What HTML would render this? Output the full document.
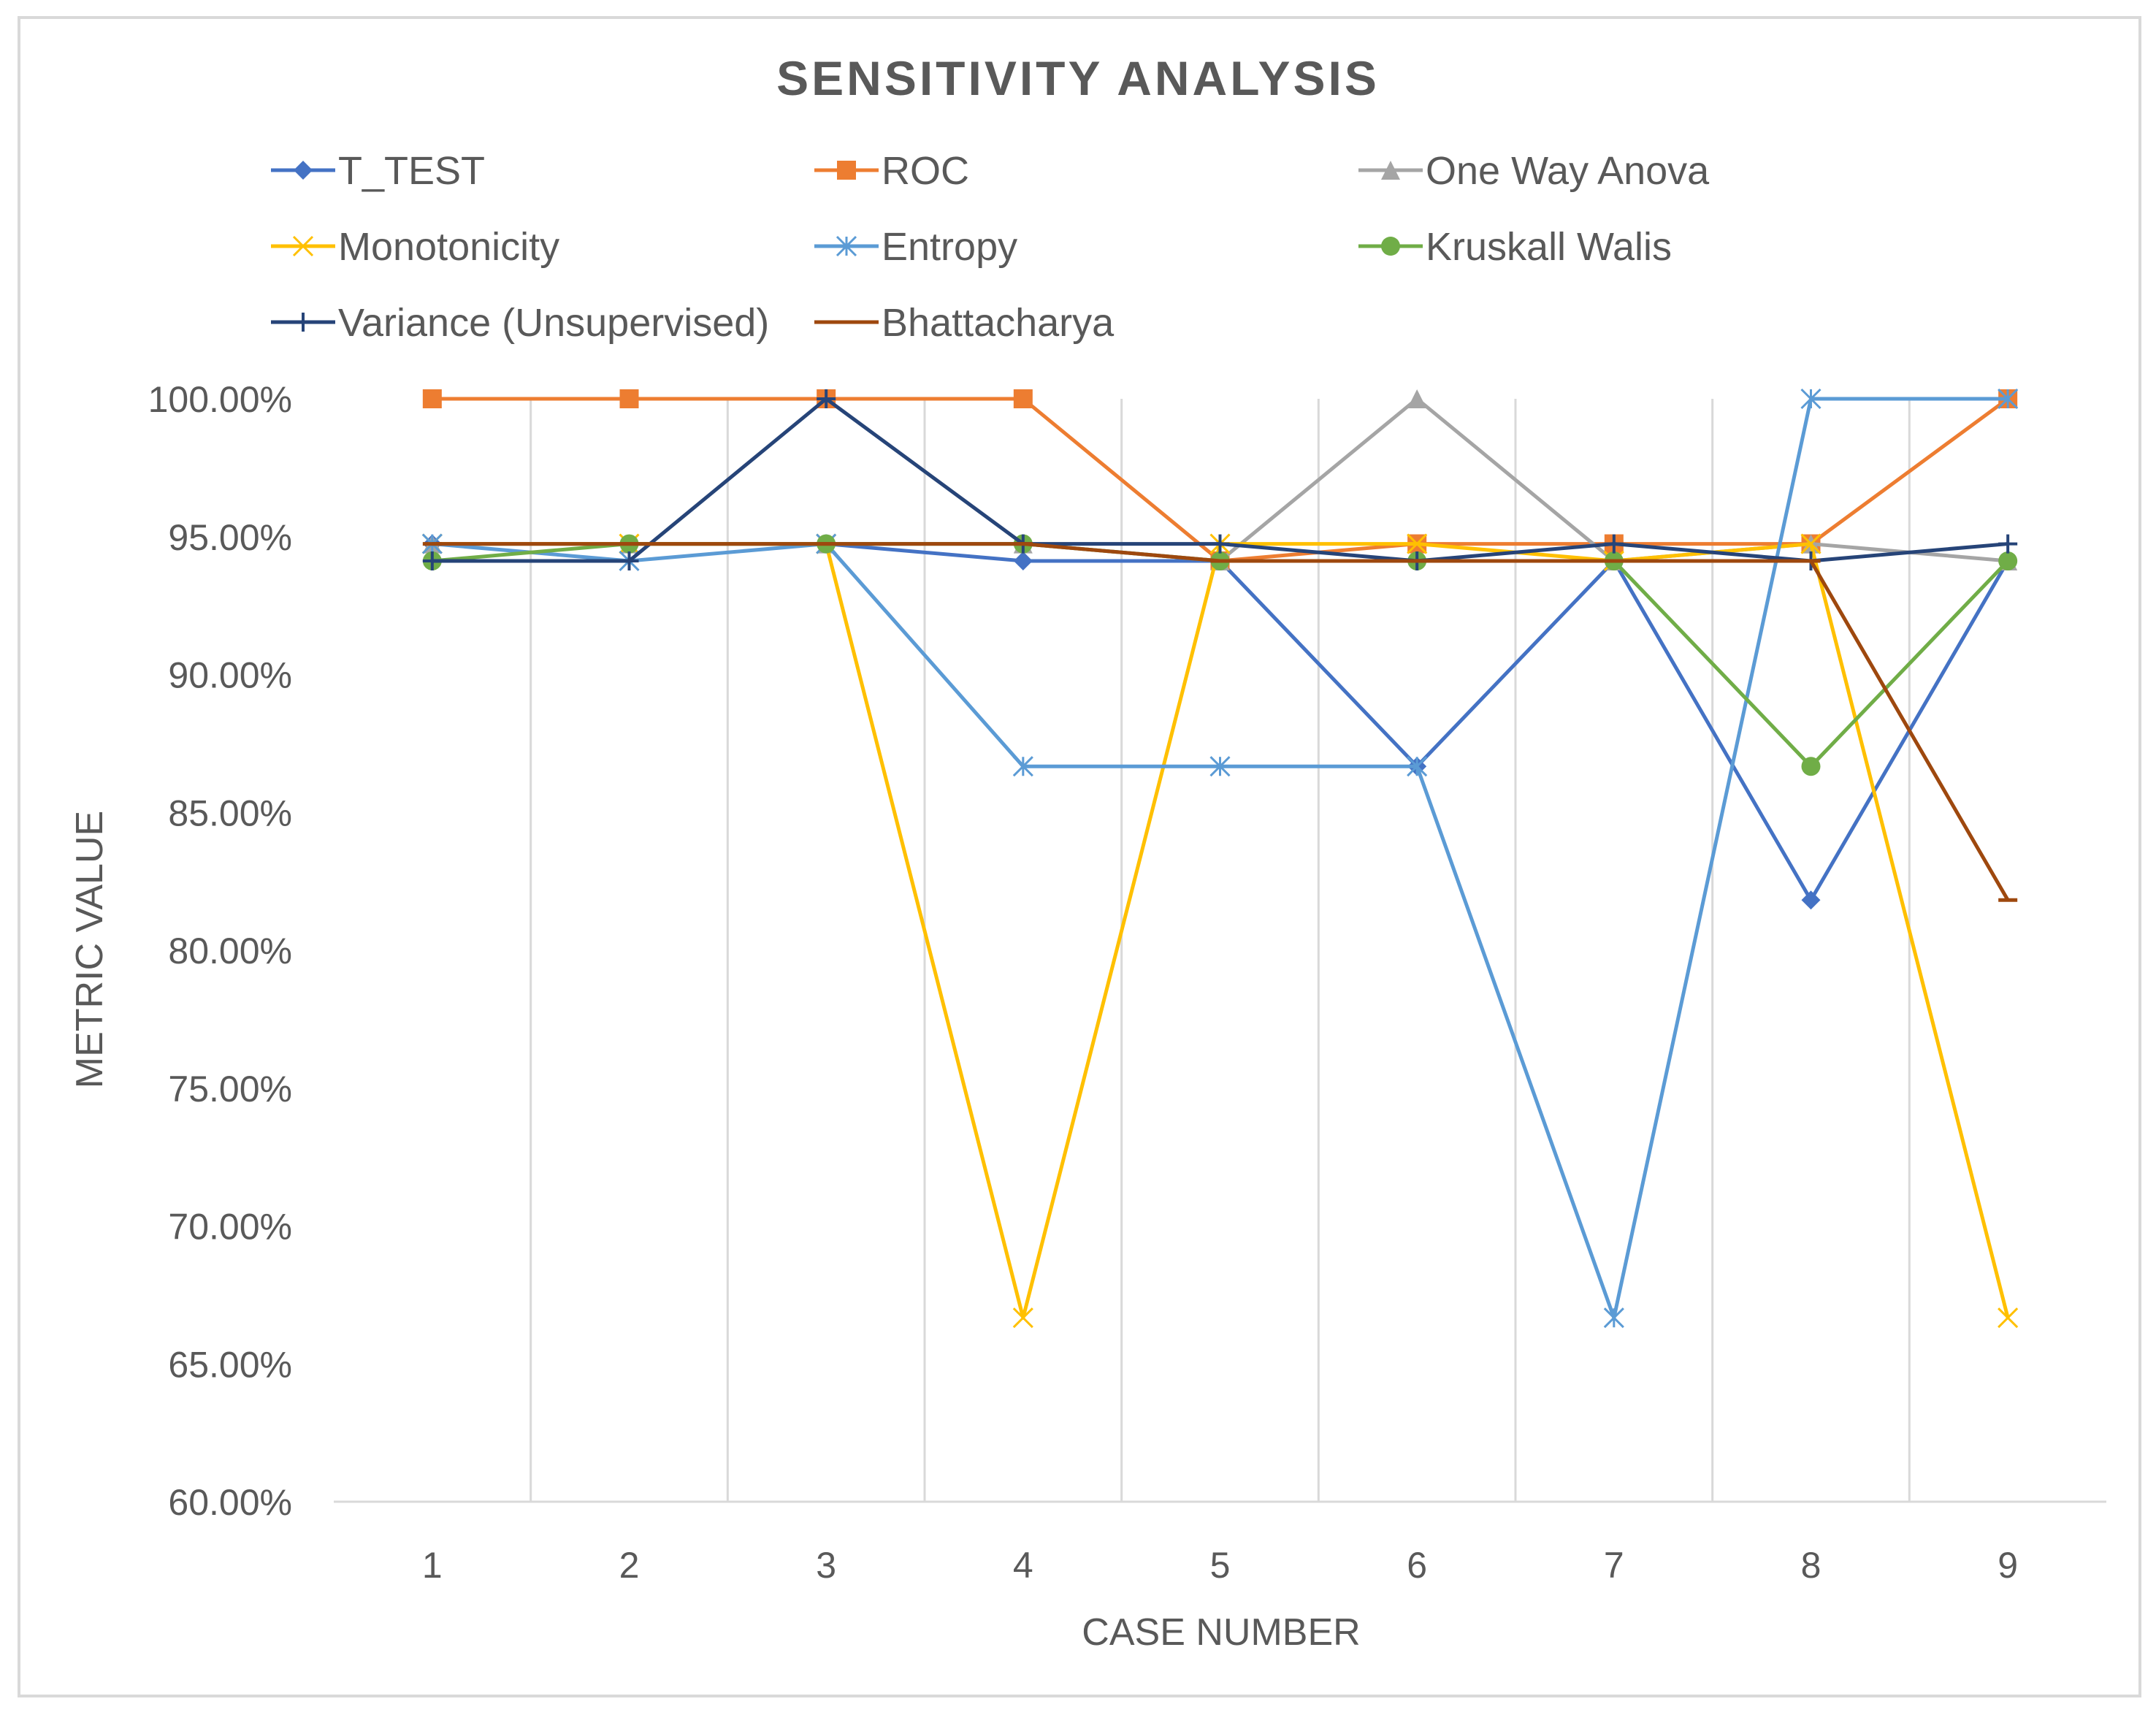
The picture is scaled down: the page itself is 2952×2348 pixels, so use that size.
<!DOCTYPE html>
<html><head><meta charset="utf-8"><style>
html,body{margin:0;padding:0;background:#fff;}
svg{display:block;font-family:"Liberation Sans",sans-serif;}
</style></head><body>
<svg id="chart" width="2952" height="2348" viewBox="0 0 2952 2348" xmlns="http://www.w3.org/2000/svg">
<rect x="26" y="24" width="2904" height="2298" fill="#fff" stroke="#d9d9d9" stroke-width="4"/>
<text x="1476" y="130" text-anchor="middle" font-size="66" font-weight="bold" letter-spacing="4" fill="#595959">SENSITIVITY ANALYSIS</text>
<g id="grid"></g><g id="axes"></g><g id="series"></g><g id="legend"></g>
<text x="1672" y="2252" text-anchor="middle" font-size="52" fill="#595959">CASE NUMBER</text>
<text transform="translate(140,1300) rotate(-90)" text-anchor="middle" font-size="52" fill="#595959">METRIC VALUE</text>
</svg>
<script>
const categories = [1,2,3,4,5,6,7,8,9];
const yTicks = [60,65,70,75,80,85,90,95,100];
const seriesNames = ["T_TEST","ROC","One Way Anova","Monotonicity","Entropy","Kruskall Walis","Variance (Unsupervised)","Bhattacharya"];
const tTest = [94.74,94.74,94.74,94.12,94.12,86.67,94.12,81.82,94.12];
const roc = [100,100,100,100,94.12,94.74,94.74,94.74,100];
const anova = [94.74,94.74,94.74,94.74,94.12,100,94.12,94.74,94.12];
const monotonicity = [94.74,94.74,94.74,66.67,94.74,94.74,94.12,94.74,66.67];
const entropy = [94.74,94.12,94.74,86.67,86.67,86.67,66.67,100,100];
const kruskall = [94.12,94.74,94.74,94.74,94.12,94.12,94.12,86.67,94.12];
const variance = [94.12,94.12,100,94.74,94.74,94.12,94.74,94.12,94.74];
const bhatta = [94.74,94.74,94.74,94.74,94.12,94.12,94.12,94.12,81.82];

const NS="http://www.w3.org/2000/svg";
const L=457,R=2884,T=546,B=2056,ymin=60,ymax=100;
const band=(R-L)/categories.length;
function xs(i){return L+band*(i+0.5);}
function ys(v){return B-(v-ymin)/(ymax-ymin)*(B-T);}
function mk(tag,attrs,parent){const e=document.createElementNS(NS,tag);for(const k in attrs)e.setAttribute(k,attrs[k]);parent.appendChild(e);return e;}
const grid=document.getElementById('grid'),axes=document.getElementById('axes'),ser=document.getElementById('series'),leg=document.getElementById('legend');
for(let i=1;i<categories.length;i++){const g=mk('line',{x1:L+band*i,x2:L+band*i,y1:T,y2:B,stroke:'#d9d9d9','stroke-width':3},grid);

}
const ax=mk('line',{x1:L,x2:R,y1:B,y2:B,stroke:'#d9d9d9','stroke-width':3},axes);


yTicks.forEach(v=>{const t=mk('text',{x:400,y:ys(v)+18,'text-anchor':'end','font-size':50,fill:'#595959'},axes);t.textContent=v.toFixed(2)+'%';

});
categories.forEach((c,i)=>{const t=mk('text',{x:xs(i),y:2160,'text-anchor':'middle','font-size':50,fill:'#595959'},axes);t.textContent=c;

});
const colors=['#4472c4','#ed7d31','#a5a5a5','#ffc000','#5b9bd5','#70ad47','#264478','#9e480e'];
const markers=['diamond','square','triangle','x','star','circle','plus','dash'];
const data=[tTest,roc,anova,monotonicity,entropy,kruskall,variance,bhatta];
function marker(type,x,y,c,g){
 const s=13;
 if(type==='diamond')mk('polygon',{points:`${x},${y-s} ${x+s},${y} ${x},${y+s} ${x-s},${y}`,fill:c},g);
 else if(type==='square')mk('rect',{x:x-s,y:y-s,width:2*s,height:2*s,fill:c},g);
 else if(type==='triangle')mk('polygon',{points:`${x},${y-s} ${x+s},${y+s} ${x-s},${y+s}`,fill:c},g);
 else if(type==='circle')mk('circle',{cx:x,cy:y,r:s,fill:c},g);
 else if(type==='x'){mk('path',{d:`M${x-s},${y-s}L${x+s},${y+s}M${x+s},${y-s}L${x-s},${y+s}`,stroke:c,'stroke-width':3},g);}
 else if(type==='star'){mk('path',{d:`M${x-s},${y-s}L${x+s},${y+s}M${x+s},${y-s}L${x-s},${y+s}M${x},${y-s}L${x},${y+s}`,stroke:c,'stroke-width':3},g);}
 else if(type==='plus'){mk('path',{d:`M${x-s},${y}L${x+s},${y}M${x},${y-s}L${x},${y+s}`,stroke:c,'stroke-width':4},g);}
 else if(type==='dash'){mk('path',{d:`M${x-s},${y}L${x+s},${y}`,stroke:c,'stroke-width':5},g);}
}
data.forEach((arr,si)=>{
 const g=mk('g',{},ser);
 
 
 const pts=arr.map((v,i)=>xs(i)+','+ys(v)).join(' ');
 mk('polyline',{points:pts,fill:'none',stroke:colors[si],'stroke-width':5,'stroke-linejoin':'round'},g);
 arr.forEach((v,i)=>marker(markers[si],xs(i),ys(v),colors[si],g));
});
const lx=[371,1115,1860],ly=[233,337,441];
seriesNames.forEach((n,i)=>{
 const col=i%3,row=Math.floor(i/3);
 const g=mk('g',{},leg);
 
 
 const x=lx[col],y=ly[row];
 mk('line',{x1:x,x2:x+88,y1:y,y2:y,stroke:colors[i],'stroke-width':5},g);
 marker(markers[i],x+44,y,colors[i],g);
 const t=mk('text',{x:x+92,y:y+19,'font-size':54,fill:'#595959'},g);t.textContent=n;
});
</script>
</body></html>
